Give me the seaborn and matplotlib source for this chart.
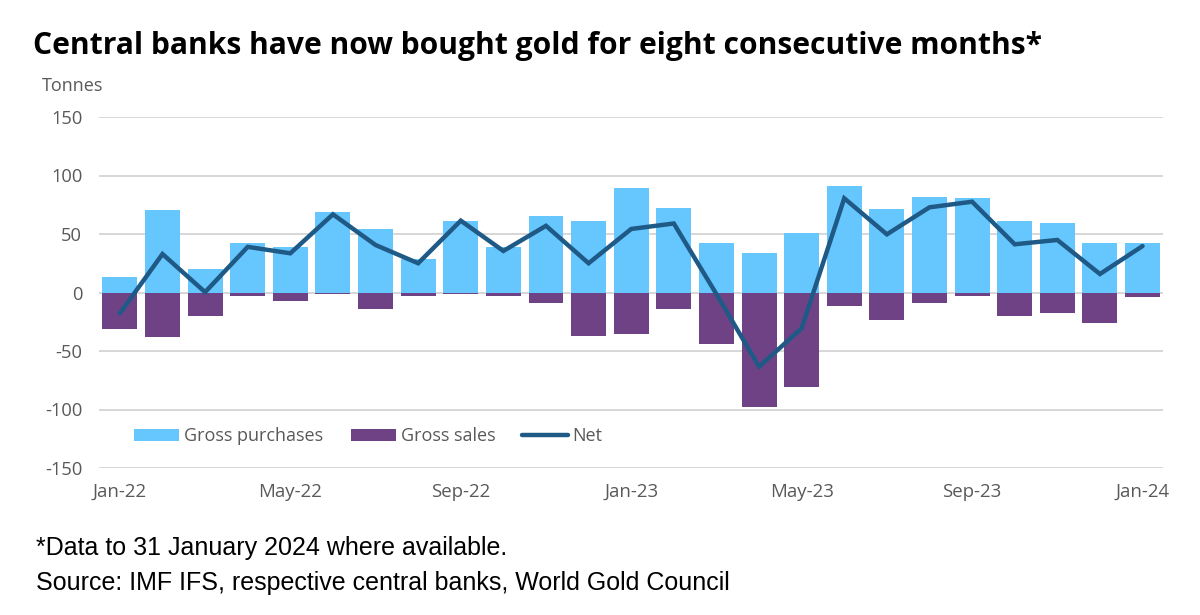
import numpy as np
import pandas as pd
import matplotlib
matplotlib.use("Agg")
import matplotlib.pyplot as plt
import seaborn as sns
from matplotlib.patches import Patch
from matplotlib.lines import Line2D

months = ["Jan-22", "Feb-22", "Mar-22", "Apr-22", "May-22", "Jun-22", "Jul-22", "Aug-22",
          "Sep-22", "Oct-22", "Nov-22", "Dec-22", "Jan-23", "Feb-23", "Mar-23", "Apr-23",
          "May-23", "Jun-23", "Jul-23", "Aug-23", "Sep-23", "Oct-23", "Nov-23", "Dec-23", "Jan-24"]
gross_purchases = [13.5, 70.5, 20.3, 42.3, 39.0, 68.8, 54.0, 28.4, 60.8, 38.5, 65.7, 61.0, 89.0,
                   72.5, 42.3, 33.8, 51.1, 91.0, 71.0, 81.4, 80.5, 61.0, 59.7, 42.6, 42.6]
gross_sales = [-30.8, -38.0, -20.0, -3.0, -7.0, -1.5, -14.0, -3.0, -1.5, -3.0, -8.7, -37.2, -35.2,
               -14.0, -43.7, -97.6, -81.0, -11.8, -23.5, -8.7, -3.0, -20.0, -17.2, -25.8, -4.1]
net = [-17.8, 32.9, 0.3, 39.0, 33.5, 66.8, 40.6, 25.0, 61.4, 35.5, 57.0, 25.0, 54.3,
       59.0, -1.4, -63.4, -30.6, 80.5, 49.7, 72.8, 77.6, 41.2, 44.9, 15.8, 39.7]
tick_labels = ["Jan-22", "May-22", "Sep-22", "Jan-23", "May-23", "Sep-23", "Jan-24"]
y_ticks = [-150, -100, -50, 0, 50, 100, 150]

c_buy = "#66c6fe"
c_sell = "#6f4286"
c_net = "#1f5a87"
grey = "#595959"

sns.set_theme(style="white")
plt.rcParams["font.family"] = ["Open Sans", "DejaVu Sans"]

df = pd.DataFrame({"month": months, "buy": gross_purchases, "sell": gross_sales, "net": net})

fig = plt.figure(figsize=(12, 6.15), dpi=100)
ax = fig.add_axes([99 / 1200, 1 - 468 / 615, 1064 / 1200, 351 / 615])

sns.barplot(data=df, x="month", y="buy", order=months, color=c_buy, width=0.82,
            saturation=1, ax=ax, zorder=2, edgecolor="none")
sns.barplot(data=df, x="month", y="sell", order=months, color=c_sell, width=0.82,
            saturation=1, ax=ax, zorder=2, edgecolor="none")
sns.lineplot(x=np.arange(len(months)), y=df["net"].values, color=c_net, linewidth=3.2,
             ax=ax, zorder=3, solid_joinstyle="miter")

ax.set_ylim(-150, 150)
ax.set_xlim(-0.49, len(months) - 1 + 0.48)
ax.set_yticks(y_ticks)
ax.set_yticklabels([str(v) for v in y_ticks])
ax.set_xticks([months.index(m) for m in tick_labels])
ax.set_xticklabels(tick_labels)
ax.set_xlabel("")
ax.set_ylabel("")
ax.grid(axis="y", color="#d4d4d4", linewidth=1.3, zorder=0)
ax.grid(axis="x", visible=False)
ax.set_axisbelow(True)
for s in ax.spines.values():
    s.set_visible(False)
ax.tick_params(axis="y", length=0, pad=12, labelsize=13.2, labelcolor=grey)
ax.tick_params(axis="x", length=0, pad=11, labelsize=13.4, labelcolor=grey)

handles = [Patch(facecolor=c_buy, edgecolor="none"),
           Patch(facecolor=c_sell, edgecolor="none"),
           Line2D([0], [0], color=c_net, linewidth=3.2)]
leg = ax.legend(handles, ["Gross purchases", "Gross sales", "Net"], ncol=3, frameon=False,
                loc="center left", bbox_to_anchor=(0.033, 0.09), fontsize=13,
                borderaxespad=0, borderpad=0,
                handlelength=2.5, handleheight=0.7, handletextpad=0.28, columnspacing=1.5,
                labelcolor=grey)

fig.text(33 / 1200, 1 - 46 / 615, "Central banks have now bought gold for eight consecutive months*",
         fontsize=21.6, fontweight="bold", color="black", va="center", ha="left")
fig.text(42 / 1200, 1 - 86 / 615, "Tonnes", fontsize=13, color=grey, va="center", ha="left")
fig.text(36 / 1200, 1 - 548 / 615, "*Data to 31 January 2024 where available.",
         fontsize=18, color="black", va="center", ha="left", family=["Liberation Sans", "DejaVu Sans"])
fig.text(36 / 1200, 1 - 583 / 615, "Source: IMF IFS, respective central banks, World Gold Council",
         fontsize=18, color="black", va="center", ha="left", family=["Liberation Sans", "DejaVu Sans"])

fig.savefig("out.png", dpi=100)
